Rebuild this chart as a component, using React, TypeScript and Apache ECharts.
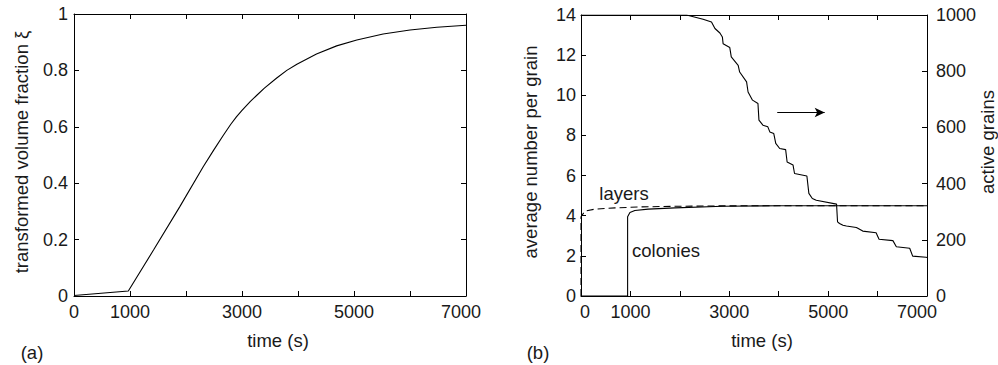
import React, { useEffect, useRef } from "react";
import * as echarts from "echarts";

// ---------- data ----------
const timeLabels = [0, 1000, 3000, 5000, 7000];

// (a) transformed volume fraction
const fracTime = [0, 970, 1420, 1890, 2310, 2500, 2670, 2800, 2900, 3000, 3150, 3260, 3400, 3620, 3800, 3980, 4330, 4690, 5050, 5520, 6000, 6480, 7000];
const fracXi = [0.002, 0.018, 0.163, 0.317, 0.459, 0.519, 0.571, 0.609, 0.635, 0.658, 0.69, 0.711, 0.737, 0.773, 0.8, 0.822, 0.858, 0.887, 0.908, 0.929, 0.943, 0.953, 0.96];

// (b) layers (dashed) and colonies (solid), average number per grain
const layersTime = [0, 0, 80, 280, 690, 1230, 1900, 2870, 4000, 7000];
const layersVal = [0, 3.95, 4.23, 4.33, 4.39, 4.44, 4.47, 4.49, 4.5, 4.5];
const coloniesTime = [0, 943, 943, 990, 1090, 1360, 1900, 2870, 4000, 7000];
const coloniesVal = [0, 0, 3.95, 4.16, 4.26, 4.33, 4.39, 4.47, 4.5, 4.5];

// (b) active grains (right axis)
const grainsTime = [0, 2135, 2470, 2640, 2710, 2810, 2860, 2875, 3010, 3040, 3180, 3210, 3350, 3380, 3470, 3580, 3600, 3680, 3780, 3820, 3900, 3940, 4020, 4140, 4170, 4290, 4320, 4570, 4610, 4680, 4760, 5170, 5190, 5230, 5300, 5370, 5570, 5600, 5700, 5970, 6030, 6310, 6380, 6650, 6710, 6980, 7000];
const grainsVal = [1000, 1000, 985, 975, 952, 936, 922, 898, 884, 851, 821, 797, 762, 726, 697, 685, 626, 608, 602, 584, 578, 543, 525, 521, 477, 466, 436, 427, 365, 347, 341, 327, 264, 258, 252, 249, 244, 241, 231, 225, 202, 197, 175, 170, 142, 138, 137];

// arrow annotation (time, active grains)
const arrowFrom = [3970, 653];
const arrowTo = [4930, 653];

const zip = (a: number[], b: number[]) => a.map((v, i) => [v, b[i]]);

const FONT = "Liberation Sans, Arial, Helvetica, sans-serif";
const TXT = "#1a1a1a";
const FS = 18;
const FT = 18.5;

export default function App() {
  const ref = useRef<HTMLDivElement>(null);
  useEffect(() => {
    if (!ref.current) return;
    const chart = echarts.init(ref.current, null, { renderer: "svg" });

    const lineCol = "#000";
    const baseAxis = {
      axisLine: { show: true, onZero: false, lineStyle: { color: lineCol, width: 1 } },
      axisTick: { show: true, inside: true, length: 5, lineStyle: { color: lineCol, width: 1 } },
      splitLine: { show: false },
    };
    const labelStyle = { color: TXT, fontSize: FS, fontFamily: FONT };
    const rich = {
      n: { color: TXT, fontSize: FS, fontFamily: FONT },
      l10: { color: TXT, fontSize: FS, fontFamily: FONT, padding: [0, 10, 0, 0] },
      l20: { color: TXT, fontSize: FS, fontFamily: FONT, padding: [0, 20, 0, 0] },
      r8: { color: TXT, fontSize: FS, fontFamily: FONT, padding: [0, 0, 0, 8] },
    };
    const fmtA = (v: number) => {
      if (!timeLabels.includes(v)) return "";
      if (v === 7000) return `{l10|${v}}`;
      return `{n|${v}}`;
    };
    const fmtB = (v: number) => {
      if (!timeLabels.includes(v)) return "";
      if (v === 7000) return `{l20|${v}}`;
      if (v === 0) return `{r8|${v}}`;
      return `{n|${v}}`;
    };

    const xAxes: any[] = [];
    const yAxes: any[] = [];
    [0, 1].forEach((g) => {
      xAxes.push({
        ...baseAxis,
        type: "value",
        gridIndex: g,
        position: "bottom",
        min: 0,
        max: 7000,
        interval: 1000,
        axisLabel: { ...labelStyle, margin: 7, formatter: g === 0 ? fmtA : fmtB, rich, showMaxLabel: true, showMinLabel: true },
      });
      xAxes.push({
        ...baseAxis,
        type: "value",
        gridIndex: g,
        position: "top",
        min: 0,
        max: 7000,
        interval: 1000,
        axisLabel: { show: false },
      });
    });
    yAxes.push({
      ...baseAxis,
      type: "value",
      gridIndex: 0,
      position: "left",
      min: 0,
      max: 1,
      interval: 0.2,
      axisLabel: { ...labelStyle, margin: 6 },
    });
    yAxes.push({
      ...baseAxis,
      type: "value",
      gridIndex: 0,
      position: "right",
      min: 0,
      max: 1,
      interval: 0.2,
      axisLabel: { show: false },
    });
    yAxes.push({
      ...baseAxis,
      type: "value",
      gridIndex: 1,
      position: "left",
      min: 0,
      max: 14,
      interval: 2,
      axisLabel: { ...labelStyle, margin: 5 },
    });
    yAxes.push({
      ...baseAxis,
      type: "value",
      gridIndex: 1,
      position: "right",
      min: 0,
      max: 1000,
      interval: 200,
      axisLabel: { ...labelStyle, margin: 9, formatter: (v: number) => String(v) },
    });

    const txt = (text: string, x: number, y: number, rot = 0) => ({
      type: "text",
      x,
      y,
      rotation: rot,
      silent: true,
      style: {
        text,
        x: 0,
        y: 0,
        fill: TXT,
        font: `${FT}px ${FONT}`,
        fontSize: FT,
        fontFamily: FONT,
        textAlign: "center",
        textVerticalAlign: "middle",
        align: "center",
        verticalAlign: "middle",
      },
    });

    const option: any = {
      animation: false,
      backgroundColor: "#fff",
      grid: [
        { left: 74, top: 14, width: 392, height: 282 },
        { left: 581, top: 15, width: 346, height: 281 },
      ],
      xAxis: xAxes,
      yAxis: yAxes,
      series: [
        {
          type: "line",
          xAxisIndex: 0,
          yAxisIndex: 0,
          data: zip(fracTime, fracXi),
          showSymbol: false,
          lineStyle: { color: lineCol, width: 1.1 },
        },
        {
          type: "line",
          xAxisIndex: 2,
          yAxisIndex: 2,
          data: zip(layersTime, layersVal),
          showSymbol: false,
          lineStyle: { color: lineCol, width: 1.1, type: [7, 4] },
        },
        {
          type: "line",
          xAxisIndex: 2,
          yAxisIndex: 2,
          data: zip(coloniesTime, coloniesVal),
          showSymbol: false,
          lineStyle: { color: lineCol, width: 1.1 },
        },
        {
          type: "line",
          xAxisIndex: 2,
          yAxisIndex: 3,
          data: zip(grainsTime, grainsVal),
          showSymbol: false,
          lineStyle: { color: lineCol, width: 1.1 },
          markLine: {
            silent: true,
            symbol: ["none", "arrow"],
            symbolSize: [7, 10],
            label: { show: false },
            lineStyle: { color: lineCol, width: 1, type: "solid" },
            data: [[{ coord: arrowFrom }, { coord: arrowTo }]],
          },
        },
      ],
      graphic: [
        txt("time (s)", 278, 340),
        txt("time (s)", 762, 340),
        txt("transformed volume fraction ξ", 21, 152, Math.PI / 2),
        txt("average number per grain", 530, 152, Math.PI / 2),
        txt("active grains", 987, 142, Math.PI / 2),
        txt("(a)", 32, 352),
        txt("(b)", 538, 352),
        txt("layers", 624, 193),
        txt("colonies", 666, 250),
      ],
    };
    chart.setOption(option);
    return () => chart.dispose();
  }, []);
  return (
    <div
      ref={ref}
      style={{ position: "fixed", left: 0, top: 0, width: 998, height: 365, background: "#fff" }}
    />
  );
}
